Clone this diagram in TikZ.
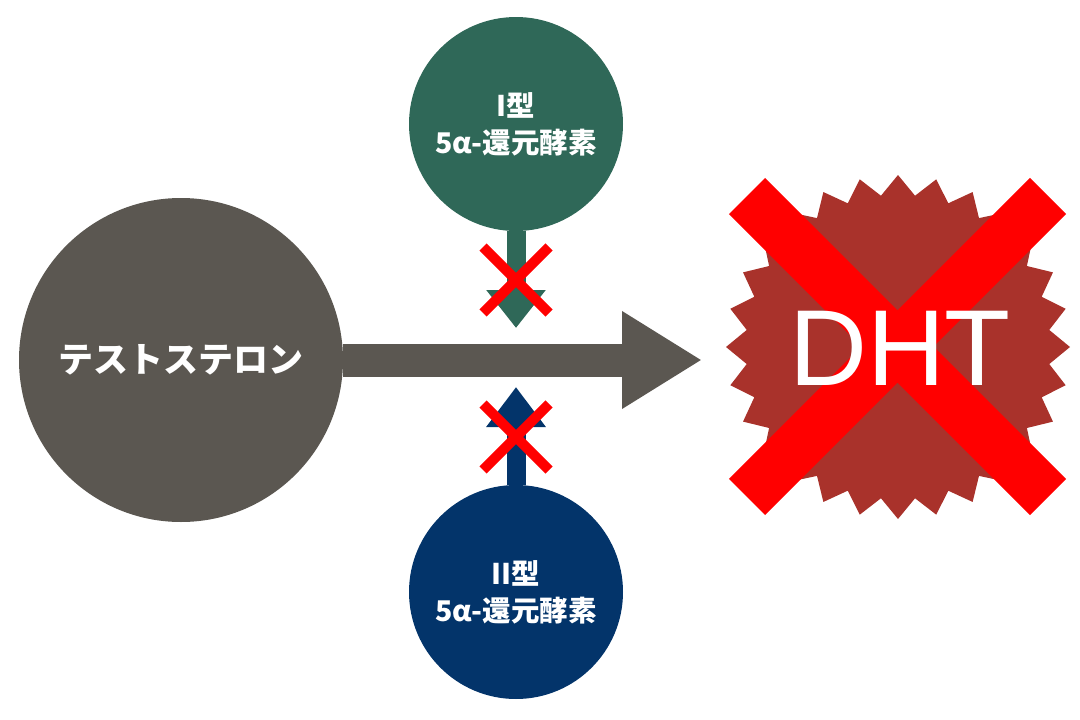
\documentclass[tikz,border=0pt]{standalone}
\usepackage{fontspec}
\newfontfamily\jp{Noto Sans CJK JP}
\newfontfamily\dhtfont{Liberation Sans}
\usetikzlibrary{arrows.meta,shapes.geometric}
\definecolor{testogrey}{HTML}{5B5751}
\definecolor{typeone}{HTML}{2F6858}
\definecolor{typetwo}{HTML}{03346A}
\definecolor{dhtburst}{HTML}{A9322B}
\definecolor{crossred}{HTML}{FF0000}
\tikzset{
  bigcircle/.style={circle,fill=#1,inner sep=0pt,text=white},
  enzyme/.style={bigcircle=#1,minimum size=214pt,align=center,font=\jp\bfseries\fontsize{28.5}{37}\selectfont},
  smallcross/.style={draw=crossred,line width=10pt},
  bigcross/.style={draw=crossred,line width=51pt},
}
\begin{document}
\begin{tikzpicture}[x=1pt,y=-1pt]
\useasboundingbox (0,0) rectangle (1080,720);
% nodes
\node[bigcircle=testogrey,minimum size=324pt,font=\jp\bfseries\fontsize{35}{40}\selectfont] (testo) at (181,360) {テストステロン};
\node[enzyme=typeone] (t1) at (516,124) {I型\\5α-還元酵素};
\node[enzyme=typetwo] (t2) at (516,592) {II型\\5α-還元酵素};
\node[star,star points=28,star point ratio=1.13,minimum size=344pt,inner sep=0pt,fill=dhtburst] (burst) at (898,347) {};
\coordinate (mainend) at (702,360);
\coordinate (t1end) at (516,328);
\coordinate (t2end) at (516,387);
% connectors
\draw[testogrey,line width=33pt,-{Triangle[length=80pt,width=92pt]}] (testo.east) -- (mainend);
\draw[typeone,line width=19pt,-{Triangle[length=38pt,width=57pt]}] (t1.south) -- (t1end);
\draw[typetwo,line width=19pt,-{Triangle[length=40pt,width=57pt]}] (t2.north) -- (t2end);
% small crosses
\draw[smallcross] (483,247) -- (549,313);
\draw[smallcross] (549,247) -- (483,313);
\draw[smallcross] (483,404) -- (549,470);
\draw[smallcross] (549,404) -- (483,470);
% big cross
\draw[bigcross] (747,196) -- (1048,497);
\draw[bigcross] (1048,196) -- (747,497);
\node[text=white,font=\dhtfont\fontsize{108}{108}\selectfont,inner sep=0pt] (dht) at (900,348) {DHT};
\end{tikzpicture}
\end{document}
